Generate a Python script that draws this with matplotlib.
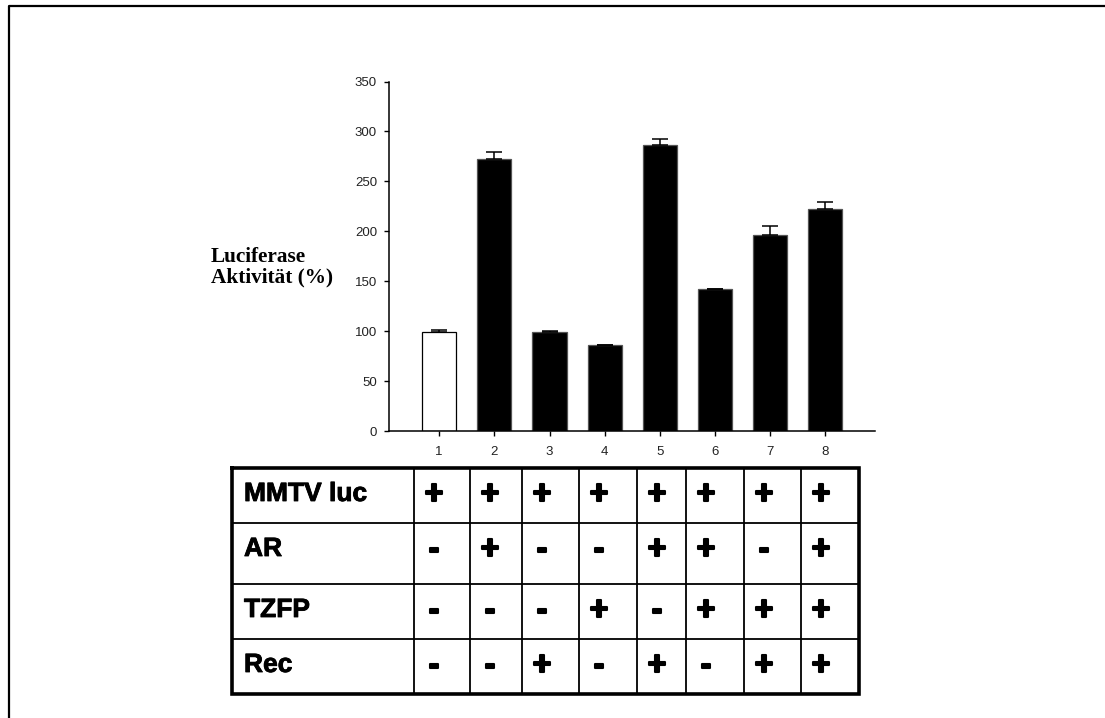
import matplotlib
matplotlib.use("Agg")
import matplotlib.pyplot as plt
from matplotlib.lines import Line2D
import matplotlib.patheffects as pe

# ---- data ----
lanes = [1, 2, 3, 4, 5, 6, 7, 8]
values = [99, 272, 99, 86, 286, 142, 196, 222]
errors = [2.5, 7.5, 1, 0.5, 6.5, 0.5, 9.5, 7.5]
bar_colors = ['white', 'black', 'black', 'black', 'black', 'black', 'black', 'black']
yticks = [0, 50, 100, 150, 200, 250, 300, 350]

row_labels = ['MMTV luc', 'AR', 'TZFP', 'Rec']
mmtv = ['+', '+', '+', '+', '+', '+', '+', '+']
ar = ['-', '+', '-', '-', '+', '+', '-', '+']
tzfp = ['-', '-', '-', '+', '-', '+', '+', '+']
rec = ['-', '-', '+', '-', '+', '-', '+', '+']
rows = [mmtv, ar, tzfp, rec]

ylabel = 'Luciferase\nAktivität (%)'

# ---- figure ----
W, H = 1105, 718
fig = plt.figure(figsize=(W / 100, H / 100), dpi=100)
fig.patch.set_facecolor('white')

def fx(px):
    return px / W

def fy(py):
    return 1 - py / H

ax_l, ax_r, ax_t, ax_b = 389, 875, 81.5, 431
ax = fig.add_axes([fx(ax_l), fy(ax_b), fx(ax_r - ax_l), (ax_b - ax_t) / H])
ax.bar(lanes, values, width=0.62, color=bar_colors, edgecolor=['black'] + ['#555555'] * 7,
       linewidth=0.9, zorder=2)
ax.errorbar(lanes, values, yerr=[[0] * len(errors), errors], fmt='none', ecolor='black',
            elinewidth=1.1, capsize=5.5, capthick=1.1, zorder=3)
ax.set_xlim(0.09, 8.9)
ax.set_ylim(0, 350)
ax.set_yticks(yticks)
ax.set_xticks(lanes)
ax.set_xticklabels([str(l) for l in lanes])
for s in ['top', 'right']:
    ax.spines[s].set_visible(False)
for s in ['left', 'bottom']:
    ax.spines[s].set_linewidth(1.1)
ax.tick_params(axis='both', direction='out', length=3.6, width=1.0, labelsize=9.5,
               colors='black')
ax.tick_params(axis='y', pad=5)
ax.tick_params(axis='x', pad=7)
for lab in ax.get_xticklabels() + ax.get_yticklabels():
    lab.set_fontfamily('Liberation Sans')
    lab.set_color('#222222')

fig.text(fx(211), fy(267), ylabel, fontfamily='Liberation Serif', fontweight='bold',
         fontsize=15.3, ha='left', va='center', linespacing=1.05)

# ---- overlay in pixel coords for frame and table ----
ov = fig.add_axes([0, 0, 1, 1], zorder=5)
ov.set_xlim(0, W)
ov.set_ylim(H, 0)
ov.axis('off')
ov.patch.set_alpha(0)

# outer frame (top and left)
ov.add_line(Line2D([9, 9, W + 5], [H + 5, 6, 6], color='black', lw=1.6))

col_edges = [232, 414, 470, 522, 579, 637, 686, 744, 801, 859]
row_edges = [468, 523, 584, 639, 694]

for x in col_edges[1:-1]:
    ov.add_line(Line2D([x, x], [row_edges[0], row_edges[-1]], color='black', lw=1.3))
for y in row_edges[1:-1]:
    ov.add_line(Line2D([col_edges[0], col_edges[-1]], [y, y], color='black', lw=1.3))
ov.add_line(Line2D([col_edges[0], col_edges[-1], col_edges[-1], col_edges[0], col_edges[0]],
                   [row_edges[0], row_edges[0], row_edges[-1], row_edges[-1], row_edges[0]],
                   color='black', lw=2.6, solid_joinstyle='miter'))

label_fx = [pe.withStroke(linewidth=0.6, foreground='black')]
sign_fx = [pe.withStroke(linewidth=1.5, foreground='black')]
for i, (label, signs) in enumerate(zip(row_labels, rows)):
    top = row_edges[i]
    ov.text(244, top + 33, label, fontfamily='Liberation Sans', fontweight='bold',
            fontsize=19, ha='left', va='baseline', color='black', path_effects=label_fx)
    for j, s in enumerate(signs):
        ov.text(col_edges[j + 1] + 20, top + 35.5, s, fontfamily='Liberation Sans',
                fontweight='bold', fontsize=24, ha='center', va='baseline', color='black',
                path_effects=sign_fx)

fig.savefig('out.png', dpi=100, facecolor='white')
